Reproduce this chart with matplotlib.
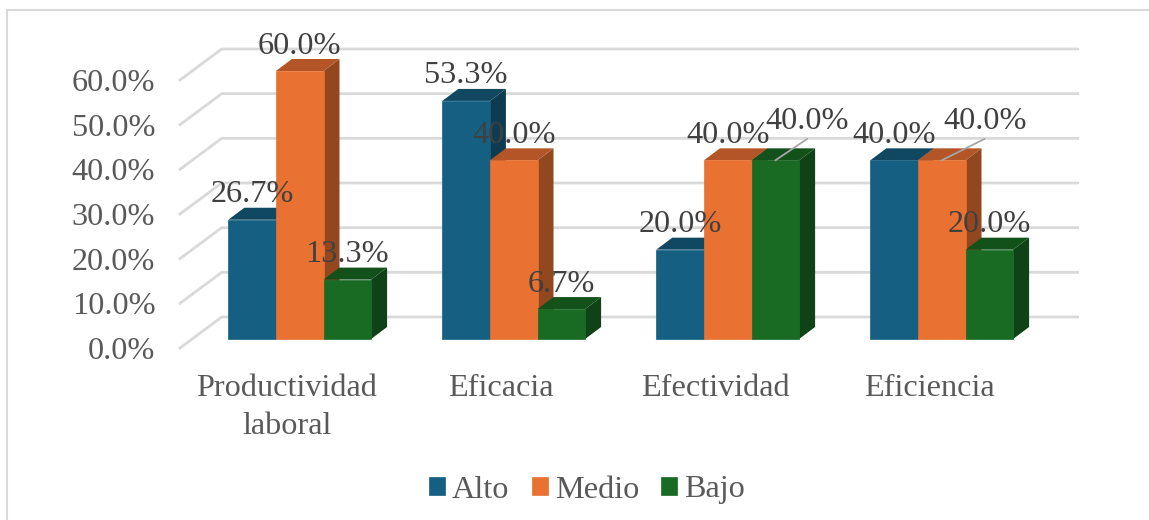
import numpy as np
import matplotlib
matplotlib.use("Agg")
from matplotlib import pyplot as plt
from matplotlib.patches import Polygon, Rectangle

W, H = 1149, 520

categories = ["Productividad\nlaboral", "Eficacia", "Efectividad", "Eficiencia"]
series = ["Alto", "Medio", "Bajo"]
alto = [26.7, 53.3, 20.0, 40.0]
medio = [60.0, 40.0, 40.0, 40.0]
bajo = [13.3, 6.7, 40.0, 20.0]
yticks = [0, 10, 20, 30, 40, 50, 60]

front = ["#156082", "#E97132", "#196B24"]
top = ["#104862", "#B35527", "#12511A"]
side = ["#0D3B50", "#93471E", "#0F4216"]
TXT = "#404040"
TXT2 = "#595959"

plt.rcParams["font.family"] = ["Liberation Serif", "DejaVu Serif"]
FS = 23.2

fig = plt.figure(figsize=(W / 100, H / 100), dpi=100)
# axes = front edge of the floor, in pixels from the reference
L, R, Y0, Y60 = 180, 1036, 348, 80
ax = fig.add_axes([L / W, 1 - Y0 / H, (R - L) / W, (Y0 - Y60) / H])
ax.set_xlim(-0.5, 3.5)
ax.set_ylim(0, 60)
ax.patch.set_alpha(0)
for s in ax.spines.values():
    s.set_visible(False)

px = 4 / (R - L)   # data units per pixel, x
py = 60 / (Y0 - Y60)  # y

# back wall + side wall lines
wall_dx, wall_dy = 41.7 * px, 31 * py
for t in yticks:
    ax.plot([-0.5, -0.5 + wall_dx, 3.5 + wall_dx], [t, t + wall_dy, t + wall_dy],
            color="#D9D9D9", lw=2.0, clip_on=False, zorder=1, solid_joinstyle="miter")

# bars
bw = 47.6 * px
front_dx, front_dy = 12.7 * px, 9 * py
dep_x, dep_y = 16 * px, 12 * py
x = np.arange(len(categories))
for i, vals in enumerate([alto, medio, bajo]):
    for j, v in enumerate(vals):
        x0 = x[j] + front_dx + (i - 1.5) * bw
        x1 = x0 + bw
        b = front_dy
        t = front_dy + v
        z = 3 + i * 0.1 + j
        ax.add_patch(Polygon([(x1, b), (x1 + dep_x, b + dep_y), (x1 + dep_x, t + dep_y), (x1, t)],
                             fc=side[i], ec="none", clip_on=False, zorder=z))
        ax.add_patch(Polygon([(x0, t), (x1, t), (x1 + dep_x, t + dep_y), (x0 + dep_x, t + dep_y)],
                             fc=top[i], ec="none", clip_on=False, zorder=z))
        ax.bar(x0, v, bw, bottom=b, align="edge", color=front[i], ec=front[i], lw=0.5,
               clip_on=False, zorder=z + 0.01, label=series[i] if j == 0 else None)

# data labels
for i, vals in enumerate([alto, medio, bajo]):
    for j, v in enumerate(vals):
        xc = x[j] + front_dx + (i - 1) * bw
        yc = front_dy + v
        moved = (i, j) in [(2, 2), (1, 3)]
        if moved:
            dx = 32 if i == 2 else 43
            ax.annotate("", xy=(xc, yc), xytext=(dx * 0.72, 21.5 * 0.72), textcoords="offset points",
                        arrowprops=dict(arrowstyle="-", color="#A6A6A6", lw=1.3, shrinkA=0, shrinkB=0),
                        annotation_clip=False, zorder=20)
            off = (dx * 0.72, 39 * 0.72)
        else:
            off = (0, 25 * 0.72)
        ax.annotate(f"{v:.1f}%", xy=(xc, yc), xytext=off, textcoords="offset points",
                    ha="center", va="center", fontsize=FS, color=TXT, zorder=30,
                    annotation_clip=False)

ax.set_xticks(x)
ax.set_xticklabels(categories, fontsize=FS, color=TXT2, linespacing=1.42)
ax.set_yticks(yticks)
ax.set_yticklabels([f"{t:.1f}%" for t in yticks], fontsize=FS, color=TXT2)
ax.tick_params(axis="x", length=0, pad=18.5)
ax.tick_params(axis="y", length=0, pad=17.8)

handles, labels = ax.get_legend_handles_labels()
fig.legend(handles, labels, loc="center", bbox_to_anchor=(587 / W, 1 - 490 / H), ncol=3,
           frameon=False, fontsize=FS, labelcolor=TXT2, handlelength=0.5,
           handleheight=0.5, handletextpad=0.22, columnspacing=0.68)

# chart frame
fig.add_artist(Rectangle((7 / W, -0.01), 1.1, 1 - 10 / H + 0.01, transform=fig.transFigure,
                         fc="none", ec="#D9D9D9", lw=1.5))

fig.savefig("out.png", dpi=100)
